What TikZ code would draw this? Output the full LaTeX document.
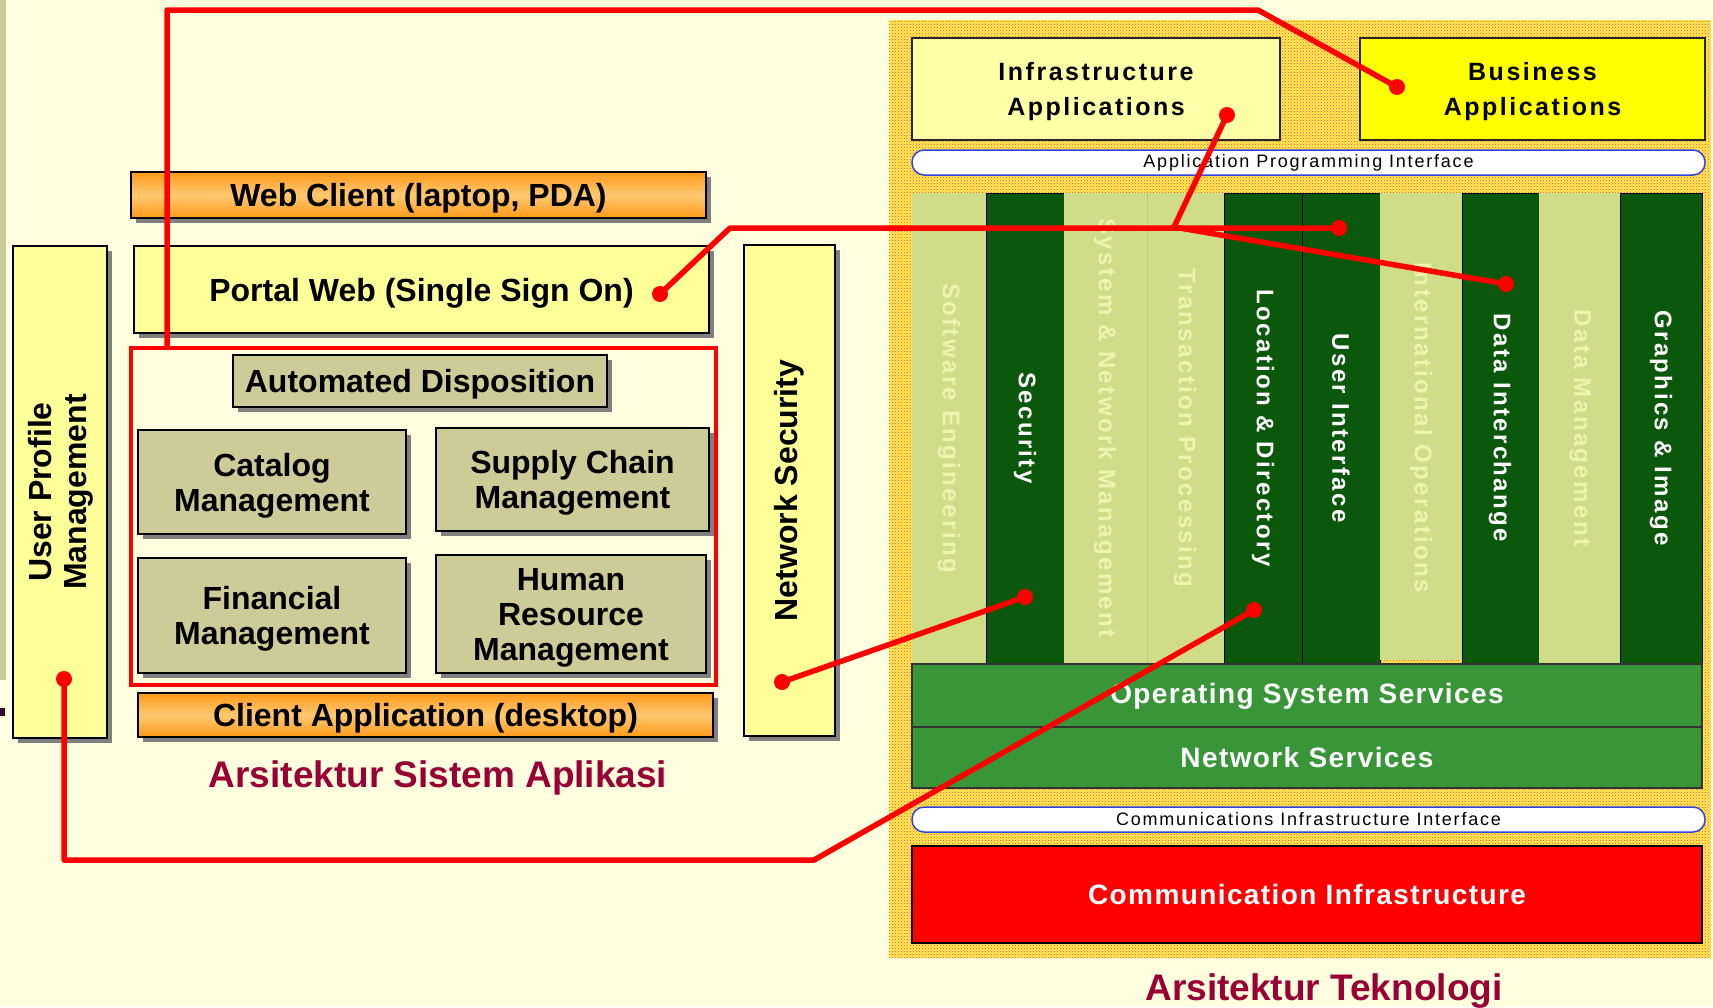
\documentclass[tikz,border=0pt]{standalone}
\usepackage{fontspec}
\setmainfont{Liberation Sans}
\newfontfamily\trackwide{Liberation Sans}[LetterSpace=10]
\newfontfamily\trackmid{Liberation Sans}[LetterSpace=5]
\usetikzlibrary{shadows,patterns}

\definecolor{cream}{HTML}{FFFFDF}
\definecolor{stripolive}{HTML}{CCCC99}
\definecolor{markpurple}{HTML}{330033}
\definecolor{shadowgray}{HTML}{808080}
\definecolor{paleyellow}{HTML}{FFFF99}
\definecolor{olivebox}{HTML}{CCCC99}
\definecolor{orangedark}{HTML}{FF9A1A}
\definecolor{orangelight}{HTML}{FFC870}
\definecolor{titlered}{HTML}{990033}
\definecolor{techback}{HTML}{FFEC50}
\definecolor{infrayellow}{HTML}{FFFFA8}
\definecolor{bizyellow}{HTML}{FFFF00}
\definecolor{colpale}{HTML}{CFDD89}
\definecolor{colpaletext}{HTML}{EEF3AE}
\definecolor{coldark}{HTML}{0B570B}
\definecolor{servgreen}{HTML}{389638}
\definecolor{pillblue}{HTML}{3344DD}
\definecolor{linkred}{HTML}{FF0000}

\begin{document}
\begin{tikzpicture}[x=1pt,y=-1pt,
  shadowed/.style={draw=black, line width=1.5pt, inner sep=0pt, align=center, text depth=0pt,
    drop shadow={opacity=1, fill=shadowgray, shadow xshift=5pt, shadow yshift=-5pt}},
  leftfont/.style={font=\fontsize{32}{35}\selectfont\bfseries},
  yellowbox/.style={shadowed, leftfont, fill=paleyellow},
  olivecell/.style={shadowed, leftfont, fill=olivebox},
  orangebar/.style={shadowed, leftfont, top color=orangedark, bottom color=orangedark, middle color=orangelight},
  appframe/.style={draw=linkred, line width=4.5pt, inner sep=0pt},
  topbox/.style={draw=black!85, line width=2pt, inner sep=0pt, align=center, text depth=0pt,
    font=\fontsize{25}{35}\selectfont\trackwide\bfseries},
  pill/.style={draw=pillblue, fill=white, line width=1.5pt, rounded corners=12pt, inner sep=0pt,
    font=\fontsize{18}{20}\selectfont\trackwide},
  palecol/.style={fill=colpale},
  darkcol/.style={fill=coldark, draw=black, line width=1pt},
  coltext/.style={rotate=-90, inner sep=0pt, font=\fontsize{24}{26}\selectfont\trackwide\bfseries},
  servband/.style={fill=servgreen, draw=black!80, line width=1.5pt, inner sep=0pt, text=white,
    font=\fontsize{28}{30}\selectfont\trackmid\bfseries},
  title/.style={text=titlered, font=\fontsize{37}{40}\selectfont\bfseries, anchor=base},
  dot/.style={circle, fill=linkred, inner sep=0pt, minimum size=16pt},
  link/.style={draw=linkred, line width=5.5pt, line join=round}]

\useasboundingbox (0,0) rectangle (1713,1007);
\fill[cream] (0,0) rectangle (1713,1007);

% slide edge remnants
\fill[stripolive] (0,0) rectangle (6,680);
\fill[markpurple] (0,708) rectangle (5,716);

% ---------------- application architecture ----------------
\node[orangebar, minimum width=575pt, minimum height=46pt] (webclient) at (418.5,195) {Web Client (laptop, PDA)};
\node[yellowbox, minimum width=575pt, minimum height=87pt] (portal) at (421.5,289.5) {Portal Web (Single Sign On)};
\node[appframe, minimum width=585pt, minimum height=337pt] (apps) at (423.5,516.5) {};
\node[olivecell, minimum width=374pt, minimum height=52pt] (autodisp) at (420,381) {Automated Disposition};
\node[olivecell, minimum width=268pt, minimum height=104pt] (catalog) at (272,482) {Catalog\\Management};
\node[olivecell, minimum width=273pt, minimum height=103pt] (supply) at (572.5,479.5) {Supply Chain\\Management};
\node[olivecell, minimum width=268pt, minimum height=115pt] (financial) at (272,615.5) {Financial\\Management};
\node[olivecell, minimum width=270pt, minimum height=118pt] (hrm) at (571,614) {Human\\Resource\\Management};
\node[orangebar, minimum width=575pt, minimum height=44pt] (clientapp) at (425.5,715) {Client Application (desktop)};
\node[yellowbox, minimum width=91pt, minimum height=491pt] (netsec) at (789.5,490.5) {};
\node[leftfont, rotate=90, inner sep=0pt] (netsectext) at (netsec.center) {Network Security};
\node[yellowbox, minimum width=94pt, minimum height=492pt] (userprof) at (60,492) {};
\node[leftfont, rotate=90, inner sep=0pt, align=center] (userproftext) at (61,492) {User Profile\\Management};
\node[title] (titleleft) at (438,787) {Arsitektur Sistem Aplikasi};

% ---------------- technology architecture ----------------
\fill[techback] (889,20) rectangle (1711,958);
\fill[pattern=crosshatch dots, pattern color=linkred!70] (889,20) rectangle (1711,958);

\node[topbox, fill=infrayellow, minimum width=368pt, minimum height=102pt] (infraapps) at (1096,89) {Infrastructure\\Applications};
\node[topbox, fill=bizyellow, minimum width=345pt, minimum height=102pt] (bizapps) at (1532.5,89) {Business\\Applications};
\node[pill, minimum width=793pt, minimum height=25pt] (api) at (1308.5,162.5) {Application Programming Interface};

% service columns
\fill[palecol] (912,193) rectangle (986,665);
\draw[darkcol] (986,193) rectangle (1064,663);
\fill[palecol] (1064,193) rectangle (1224,665);
\draw[colpale!85!black!60!colpale, line width=1pt] (1147,193) -- (1147,665);
\draw[darkcol] (1224,193) rectangle (1302,663);
\draw[darkcol] (1302,193) rectangle (1380,663);
\fill[palecol] (1380,193) rectangle (1462,660);
\draw[darkcol] (1462,193) rectangle (1539,663);
\fill[palecol] (1539,193) rectangle (1620,665);
\draw[darkcol] (1620,193) rectangle (1702,663);

\node[coltext, text=colpaletext] (colswe) at (949,428) {Software Engineering};
\node[coltext, text=white] (colsec) at (1025,428) {Security};
\node[coltext, text=colpaletext] (colsnm) at (1105,428) {System \& Network Management};
\node[coltext, text=colpaletext] (coltp) at (1185,428) {Transaction Processing};
\node[coltext, text=white] (colld) at (1263,428) {Location \& Directory};
\node[coltext, text=white] (colui) at (1341,428) {User Interface};
\node[coltext, text=colpaletext] (colio) at (1421,428) {International Operations};
\node[coltext, text=white] (coldi) at (1500,428) {Data Interchange};
\node[coltext, text=colpaletext] (coldm) at (1580,428) {Data Management};
\node[coltext, text=white] (colgi) at (1661,428) {Graphics \& Image};

\node[servband, minimum width=790pt, minimum height=65pt] (ossvc) at (1307,696.5) {Operating System Services};
\node[servband, minimum width=790pt, minimum height=61pt] (netsvc) at (1307,757.5) {Network Services};
\node[pill, minimum width=793pt, minimum height=25pt] (cii) at (1308.5,819.5) {Communications Infrastructure Interface};
\node[servband, fill=linkred, draw=black, minimum width=790pt, minimum height=97pt] (comminfra) at (1307,894.5) {Communication Infrastructure};
\node[title] (titleright) at (1324,1000) {Arsitektur Teknologi};

% ---------------- links between the two architectures ----------------
\node[dot] (dbiz) at (1397,87) {};
\node[dot] (dportal) at (660,294) {};
\node[dot] (dui) at (1339,228) {};
\node[dot] (dinfra) at (1227,115) {};
\node[dot] (ddi) at (1506,284) {};
\node[dot] (dnetsec) at (782,682) {};
\node[dot] (dsec) at (1025,597) {};
\node[dot] (duser) at (64,679) {};
\node[dot] (dloc) at (1254,610) {};

\coordinate (appstop) at (167,348);
\coordinate (bendA1) at (167,10);
\coordinate (bendA2) at (1258,10);
\coordinate (bendB) at (730,228);
\coordinate (bendC) at (1174,227);
\coordinate (bendE1) at (64,860);
\coordinate (bendE2) at (814,860);

\draw[link] (appstop) -- (bendA1) -- (bendA2) -- (dbiz.center);
\draw[link] (dportal.center) -- (bendB) -- (dui.center);
\draw[link] (dinfra.center) -- (bendC) -- (ddi.center);
\draw[link] (dnetsec.center) -- (dsec.center);
\draw[link] (duser.center) -- (bendE1) -- (bendE2) -- (dloc.center);
\end{tikzpicture}
\end{document}
